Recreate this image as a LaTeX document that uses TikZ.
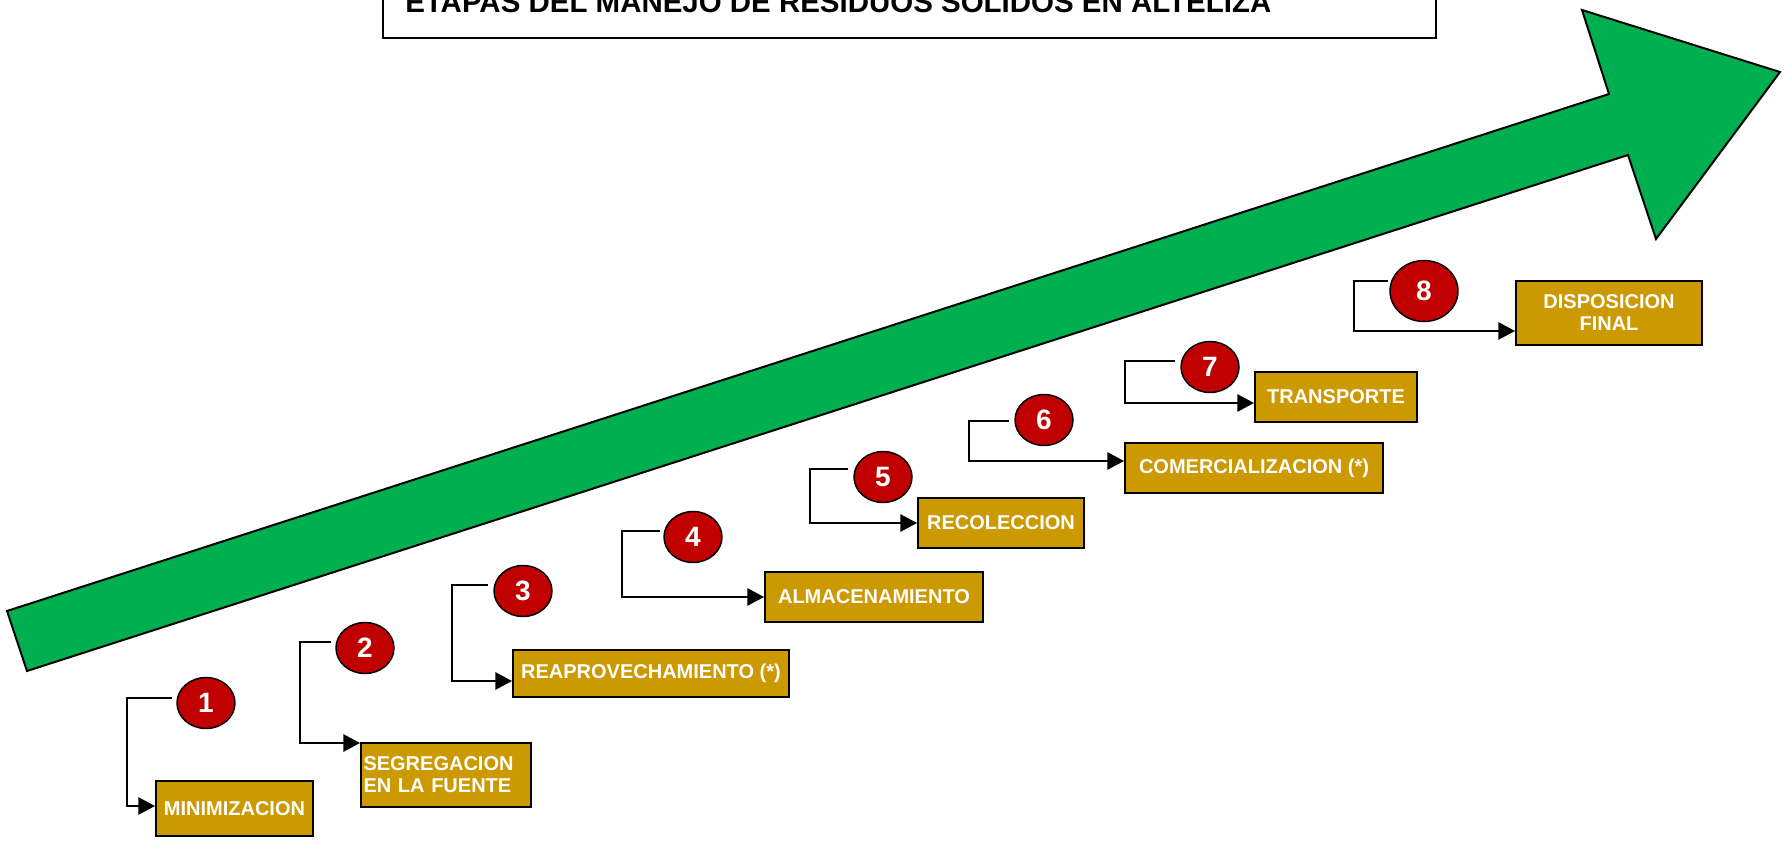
\documentclass[tikz,border=0pt]{standalone}
\usepackage{fontspec}
\setmainfont{Liberation Sans}
\usetikzlibrary{shapes.geometric,arrows.meta,calc}
\definecolor{arrowgreen}{HTML}{00B050}
\definecolor{boxgold}{HTML}{CC9900}
\definecolor{numred}{HTML}{C00000}
\tikzset{
  stagebox/.style={draw=black, line width=1.5pt, fill=boxgold, text=white,
    font=\bfseries\fontsize{15}{16.5}\selectfont, inner sep=0pt, align=center},
  numcirc/.style={ellipse, draw=black, line width=1.1pt, fill=numred, text=white,
    font=\bfseries\fontsize{21}{21}\selectfont, inner sep=0pt,
    minimum width=58*0.75pt, minimum height=51*0.75pt},
  conn/.style={draw=black, line width=1.3pt, -{Triangle[length=12.5pt,width=13pt]}},
}
\begin{document}
\begin{tikzpicture}[x=0.75pt,y=-0.75pt]
\useasboundingbox (0,0) rectangle (1786,842);
\clip (0,0) rectangle (1786,842);
\fill[white] (0,0) rectangle (1786,842);

% big green arrow
\draw[fill=arrowgreen, line width=1.5pt, line join=miter]
  (7,611) -- (1609,94) -- (1582,10) -- (1780,72) -- (1656,239) -- (1628,155) -- (27,671) -- cycle;

% title
\node (titlebox) [draw=black, line width=1.2pt, minimum width=1053*0.75pt, minimum height=60*0.75pt, inner sep=0pt] at (909.5,8) {};
\node (title) [anchor=base west, inner sep=0pt, font=\bfseries\fontsize{22.1}{23}\selectfont] at (405,13) {ETAPAS DEL MANEJO DE RESIDUOS SOLIDOS EN ALTELIZA};

% stage boxes
\node (b1) [stagebox, minimum width=157*0.75pt, minimum height=55*0.75pt] at (234.5,808.5) {MINIMIZACION};
\node (b2) [stagebox, align=left, text width=165*0.75pt, inner xsep=2.5*0.75pt, minimum height=64*0.75pt] at (446,775) {SEGREGACION\\EN LA FUENTE};
\node (b3) [stagebox, minimum width=276*0.75pt, minimum height=47*0.75pt] at (651,673.5) {REAPROVECHAMIENTO (*)};
\node (b4) [stagebox, minimum width=218*0.75pt, minimum height=50*0.75pt] at (874,597) {ALMACENAMIENTO};
\node (b5) [stagebox, minimum width=166*0.75pt, minimum height=50*0.75pt] at (1001,523) {RECOLECCION};
\node (b6) [stagebox, minimum width=258*0.75pt, minimum height=50*0.75pt] at (1254,468) {COMERCIALIZACION (*)};
\node (b7) [stagebox, minimum width=162*0.75pt, minimum height=50*0.75pt] at (1336,397) {TRANSPORTE};
\node (b8) [stagebox, minimum width=186*0.75pt, minimum height=64*0.75pt] at (1609,313) {DISPOSICION\\FINAL};

% connector coordinates
\coordinate (s1) at (172,698);  \coordinate (c1) at (127,806);
\coordinate (s2) at (331,642);  \coordinate (c2) at (300,743);
\coordinate (s3) at (488,585);  \coordinate (c3) at (452,681);
\coordinate (s4) at (660,531);  \coordinate (c4) at (622,597);
\coordinate (s5) at (848,469);  \coordinate (c5) at (810,523);
\coordinate (s6) at (1009,421); \coordinate (c6) at (969,461);
\coordinate (s7) at (1175,361); \coordinate (c7) at (1125,403);
\coordinate (s8) at (1388,281); \coordinate (c8) at (1354,331);

\foreach \i in {1,...,8}{
  \draw[conn] (s\i) -| (c\i) -- (b\i.west |- c\i);
}

% number circles
\node (n1) [numcirc] at (206,703) {1};
\node (n2) [numcirc] at (365,648) {2};
\node (n3) [numcirc] at (523,591) {3};
\node (n4) [numcirc] at (693,537) {4};
\node (n5) [numcirc] at (883,477) {5};
\node (n6) [numcirc] at (1044,420) {6};
\node (n7) [numcirc] at (1210,367) {7};
\node (n8) [numcirc, minimum width=68*0.75pt, minimum height=61*0.75pt] at (1424,291) {8};
\end{tikzpicture}
\end{document}
